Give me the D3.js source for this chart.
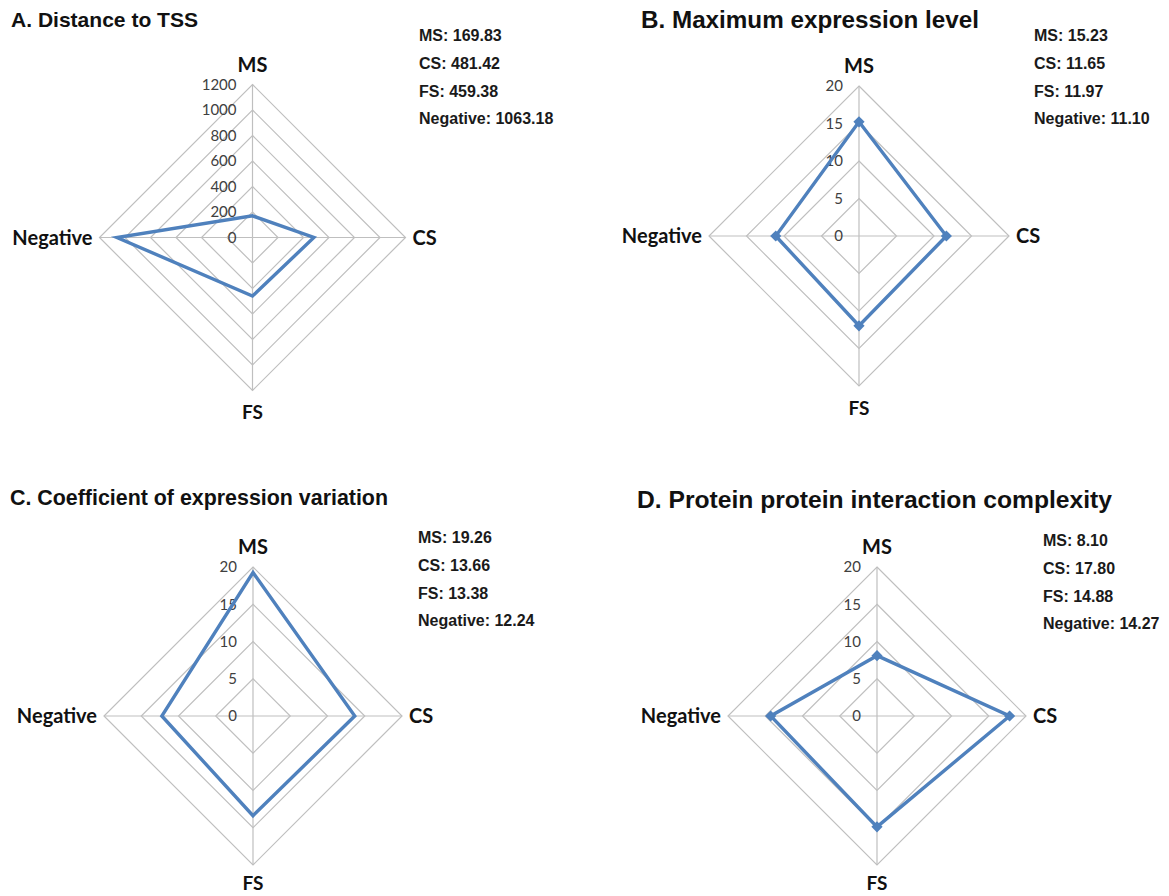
<!DOCTYPE html>
<html><head><meta charset="utf-8">
<script src="https://cdn.jsdelivr.net/npm/d3@7"></script>
<style>body{margin:0;background:#fff} svg{display:block}</style>
</head><body><svg id="c" width="1169" height="896"></svg>
<script>
// ---- data ----
const axes = ["MS", "CS", "FS", "Negative"];
const titles = ["A. Distance to TSS", "B. Maximum expression level", "C. Coefficient of expression variation", "D. Protein protein interaction complexity"];
const valuesA = [169.83, 481.42, 459.38, 1063.18];
const valuesB = [15.23, 11.65, 11.97, 11.10];
const valuesC = [19.26, 13.66, 13.38, 12.24];
const valuesD = [8.10, 17.80, 14.88, 14.27];
const ticksA = [0, 200, 400, 600, 800, 1000, 1200];
const ticksB = [0, 5, 10, 15, 20];
const ticksC = [0, 5, 10, 15, 20];
const ticksD = [0, 5, 10, 15, 20];
const showMarkers = [false, true, false, true];

// ---- layout ----
const layout = [
  {cx: 252.5, cy: 237.5, r: 153, tx: 11, ty: 27, tfs: 21, tw: 187, sx: 419, sy: 41, fsOff: 22},
  {cx: 859, cy: 236, r: 150, tx: 641, ty: 28, tfs: 24, tw: 338, sx: 1034, sy: 41, fsOff: 22},
  {cx: 253, cy: 716, r: 149, tx: 10, ty: 505, tfs: 21.5, tw: 378, sx: 418, sy: 543, fsOff: 18},
  {cx: 877, cy: 716, r: 149, tx: 637, ty: 508, tfs: 23, tw: 475, sx: 1043, sy: 546, fsOff: 18}
];
const panels = [
  {title: titles[0], values: valuesA, ticks: ticksA},
  {title: titles[1], values: valuesB, ticks: ticksB},
  {title: titles[2], values: valuesC, ticks: ticksC},
  {title: titles[3], values: valuesD, ticks: ticksD}
];

const svg = d3.select("#c");
const blue = "#4F81BD", grid = "#BFBFBF";
const angle = d3.scalePoint().domain(axes).range([0, 270]); // degrees, clockwise from top
const lf = "Lato, 'Open Sans', sans-serif";
const af = "'Liberation Sans', Arial, sans-serif";

panels.forEach((p, i) => {
  const L = layout[i];
  const g = svg.append("g").attr("transform", `translate(${L.cx},${L.cy})`);
  const rs = d3.scaleLinear().domain([0, d3.max(p.ticks)]).range([0, L.r]);
  const pt = (a, v) => {
    const th = angle(a) * Math.PI / 180;
    return [Math.sin(th) * rs(v), -Math.cos(th) * rs(v)];
  };
  // rings
  p.ticks.filter(t => t > 0).forEach(t => {
    g.append("path")
      .attr("d", d3.line()(axes.map(a => pt(a, t))) + "Z")
      .attr("fill", "none").attr("stroke", grid).attr("stroke-width", 1.2);
  });
  // spokes
  const maxV = d3.max(p.ticks);
  axes.forEach(a => {
    const [x, y] = pt(a, maxV);
    g.append("line").attr("x1", 0).attr("y1", 0).attr("x2", x).attr("y2", y)
      .attr("stroke", grid).attr("stroke-width", 1.2);
  });
  // tick labels
  g.selectAll("text.tick").data(p.ticks).join("text")
    .attr("x", -16).attr("y", d => -rs(d)).attr("dy", "0.35em")
    .attr("text-anchor", "end")
    .attr("font-family", lf).attr("font-size", 15)
    .attr("fill", "#404040").text(d => d);
  // series
  const pts = axes.map((a, k) => pt(a, p.values[k]));
  g.append("path").attr("d", d3.line()(pts) + "Z")
    .attr("fill", "none").attr("stroke", blue).attr("stroke-width", 3.4)
    .attr("stroke-linejoin", "miter");
  if (showMarkers[i]) {
    g.selectAll("path.mk").data(pts).join("path")
      .attr("transform", d => `translate(${d[0]},${d[1]})`)
      .attr("d", d3.symbol(d3.symbolDiamond2, 80)())
      .attr("fill", blue);
  }
  // axis labels
  const lab = (t, x, y, anchor, fs) => g.append("text").attr("x", x).attr("y", y)
    .attr("dy", "0.35em").attr("text-anchor", anchor)
    .attr("font-family", lf).attr("font-weight", "bold").attr("font-size", fs || 20)
    .attr("fill", "#111").text(t);
  lab(axes[0], 0, -L.r - 20, "middle");
  lab(axes[1], L.r + 7, 0, "start");
  lab(axes[2], 0, L.r + L.fsOff, "middle", 19);
  lab(axes[3], -L.r - 7, 0, "end");
  // title
  svg.append("text").attr("x", L.tx).attr("y", L.ty)
    .attr("font-family", af).attr("font-weight", "bold")
    .attr("font-size", L.tfs).attr("fill", "#111")
    .attr("textLength", L.tw).attr("lengthAdjust", "spacingAndGlyphs")
    .text(p.title);
  // stats
  svg.selectAll(null).data(axes).join("text")
    .attr("x", L.sx).attr("y", (d, k) => L.sy + k * 27.8)
    .attr("font-family", af).attr("font-weight", "bold")
    .attr("font-size", 16).attr("fill", "#1a1a1a")
    .text((d, k) => `${d}: ${p.values[k].toFixed(2)}`);
});
</script></body></html>
